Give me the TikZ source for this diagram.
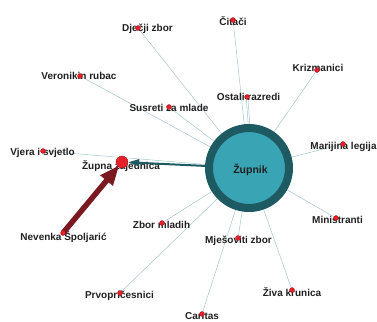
\documentclass[tikz,border=0pt]{standalone}
\usepackage{fontspec}
\setmainfont{Liberation Sans}
\usetikzlibrary{arrows.meta}
\definecolor{edgec}{HTML}{A6C6CA}
\definecolor{ringc}{HTML}{1E5A62}
\definecolor{hubc}{HTML}{39A4B4}
\definecolor{dotc}{HTML}{E5212B}
\definecolor{redarrow}{HTML}{7A1A20}
\definecolor{txt}{HTML}{202020}
\pgfdeclarelayer{bg}
\pgfdeclarelayer{fg}
\pgfsetlayers{bg,main,fg}
\tikzset{
  dot/.style={circle,fill=dotc,draw=dotc!70!black,line width=0.3pt,inner sep=0pt,minimum size=5pt},
  bigdot/.style={circle,fill=dotc,draw=dotc!70!black,line width=0.4pt,inner sep=0pt,minimum size=12pt},
  lbl/.style={font=\bfseries\fontsize{10}{12}\selectfont,text=txt,inner sep=0pt},
  edge/.style={draw=edgec,line width=0.5pt},
  hub/.style={circle,fill=hubc,draw=ringc,line width=8pt,minimum size=80pt,inner sep=0pt}
}
\begin{document}
\begin{tikzpicture}[x=1pt,y=-1pt]
\useasboundingbox (0,0) rectangle (377,321);
% hub
\node[hub] (zup) at (249,168) {};
\node[lbl,font=\bfseries\fontsize{10.5}{12}\selectfont] (zupl) at (250.5,170) {Župnik};
% dots
\begin{pgfonlayer}{fg}
\node[dot] (dj) at (138,28) {};
\node[dot] (ci) at (233,20) {};
\node[dot] (kr) at (317,70) {};
\node[dot] (os) at (247,97) {};
\node[dot] (ve) at (80,76) {};
\node[dot] (su) at (169,107) {};
\node[dot] (ma) at (343,144) {};
\node[dot] (vj) at (43,151) {};
\node[bigdot] (zz) at (122,162) {};
\node[dot] (zm) at (162,223) {};
\node[dot] (ne) at (63,233) {};
\node[dot] (pr) at (120,293) {};
\node[dot] (mi) at (336,218) {};
\node[dot] (mj) at (238,238) {};
\node[dot] (zi) at (292,290) {};
\node[dot] (ca) at (202,314) {};
\end{pgfonlayer}
% labels
\node[lbl] (djl) at (147.5,29) {Dječji zbor};
\node[lbl] (cil) at (233,21) {Čitači};
\node[lbl] (krl) at (318,68) {Krizmanici};
\node[lbl] (osl) at (248.5,97) {Ostali razredi};
\node[lbl] (vel) at (79,76) {Veronikin rubac};
\node[lbl] (sul) at (169,108) {Susreti za mlade};
\node[lbl] (mal) at (343.5,147) {Marijina legija};
\node[lbl] (vjl) at (42.5,153) {Vjera i svjetlo};
\node[lbl] (zzl) at (121,166) {Župna zajednica};
\node[lbl] (zml) at (161.5,225) {Zbor mladih};
\node[lbl] (nel) at (63.5,237) {Nevenka Špoljarić};
\node[lbl] (mil) at (337.5,220) {Ministranti};
\node[lbl] (mjl) at (238.5,241) {Mješoviti zbor};
\node[lbl] (zil) at (292,292) {Živa krunica};
\node[lbl] (prl) at (119.5,296) {Prvopričesnici};
\node[lbl] (cal) at (202,316) {Caritas};
% edges
\begin{pgfonlayer}{bg}
\foreach \n in {dj,ci,kr,ve,su,ma,vj,zm,pr,mi,mj,zi,ca}{
  \path[edge] (\n) -- (zup);
}
\path[edge] ([xshift=-0.8pt]os.center) -- ([xshift=-0.8pt]zup.north);
\path[edge] ([xshift=0.8pt]os.center) -- ([xshift=0.8pt]zup.north);
\end{pgfonlayer}
% arrows
\draw[ringc,line width=2pt,-{Triangle[length=11pt,width=7pt]}] (zup) -- (zz);
\draw[redarrow,line width=5.5pt,-{Triangle[length=20pt,width=15pt]},shorten >=-2pt] (ne.center) -- (zz);
\end{tikzpicture}
\end{document}
